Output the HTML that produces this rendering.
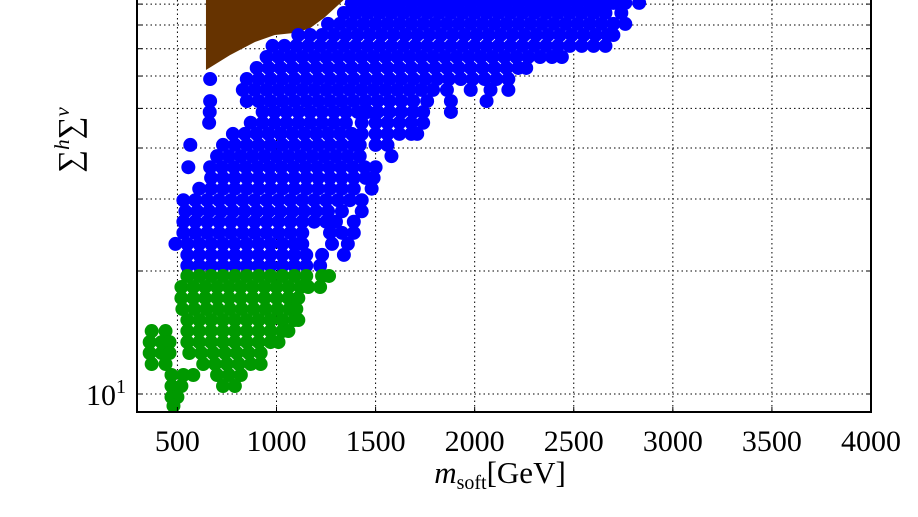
<!DOCTYPE html>
<html><head><meta charset="utf-8"><style>
html,body{margin:0;padding:0;background:#fff;}
svg{display:block;font-family:"Liberation Serif","DejaVu Serif",serif;}
</style></head><body>
<svg id="chart" width="918" height="517" viewBox="0 0 918 517" xmlns="http://www.w3.org/2000/svg">
<g id="grid"></g>
<g id="marks"></g>
<g id="axes"></g>
<text x="500" y="483" font-size="31" text-anchor="middle"><tspan font-style="italic">m</tspan><tspan font-size="20" dy="6">soft</tspan><tspan dy="-6">[GeV]</tspan></text>
<text transform="translate(80,140) rotate(-90)" font-size="32" text-anchor="middle">∑<tspan font-style="italic" font-size="21" dy="-11">h</tspan><tspan dy="11">∑</tspan><tspan font-style="italic" font-size="21" dy="-11">v</tspan></text>
</svg>
<script>
const xTicks = [500,1000,1500,2000,2500,3000,3500,4000];
const yGrid = [10,20,30,40,50,60,70,80,90];
const brownM = [644,644,765,891,991,1092,1168,1243,1369];
const brownS = [95,62.1,67.5,72.7,75.6,76.5,78.5,83.5,95];
const blueRows = [
[20.6,[550,610,670,730,790,850,910,970,1030,1090,1150,1220]],
[21.9,[550,610,670,730,790,850,910,970,1030,1090,1150,1230,1340]],
[23.3,[490,550,610,670,730,790,850,910,970,1030,1090,1130,1280,1360]],
[24.8,[530,590,650,710,770,830,890,950,1010,1070,1130,1270,1330,1390]],
[26.4,[530,590,650,710,770,830,890,950,1010,1070,1130,1190,1250,1300,1390]],
[28.0,[540,600,660,720,780,840,900,960,1020,1080,1140,1200,1260,1330,1430]],
[29.8,[530,590,650,710,770,830,890,950,1010,1070,1130,1190,1250,1310,1370,1430]],
[31.8,[610,670,730,790,850,910,970,1030,1090,1150,1210,1270,1330,1390,1480]],
[33.8,[670,730,790,850,910,970,1030,1090,1150,1210,1270,1330,1390,1450,1490]],
[35.9,[555,665,725,785,845,905,965,1025,1085,1145,1205,1265,1325,1385,1445,1500]],
[38.2,[700,760,820,880,940,1000,1060,1120,1180,1240,1300,1360,1420,1580]],
[40.7,[565,730,790,850,910,970,1030,1090,1150,1210,1270,1330,1390,1420,1500,1560]],
[43.3,[780,840,900,960,1020,1080,1140,1200,1260,1320,1380,1430,1500,1560,1620,1680,1710]],
[46.1,[660,870,930,990,1050,1110,1170,1230,1290,1350,1430,1500,1560,1620,1680,1740]],
[49.0,[663,930,990,1050,1110,1170,1230,1290,1350,1410,1460,1510,1570,1630,1690,1740,1880]],
[52.1,[665,850,910,970,1030,1090,1150,1210,1270,1330,1390,1450,1510,1570,1630,1690,1760,1880,2060]],
[55.5,[830,890,950,1010,1070,1130,1190,1250,1310,1370,1430,1490,1550,1610,1670,1730,1790,1860,1980,2080,2170]],
[59.0,[665,850,910,970,1030,1090,1150,1210,1270,1330,1390,1450,1510,1570,1630,1690,1750,1810,1870,1930,1990,2050,2110,2170]],
[62.8,[900,960,1020,1080,1140,1200,1260,1320,1380,1440,1500,1560,1620,1680,1740,1800,1860,1920,1980,2040,2100,2160,2220,2260]],
[66.8,[950,1010,1070,1130,1190,1250,1310,1370,1430,1490,1550,1610,1670,1730,1790,1850,1910,1970,2030,2090,2150,2210,2270,2330,2390,2440]],
[71.1,[980,1040,1100,1160,1220,1280,1340,1400,1460,1520,1580,1640,1700,1760,1820,1880,1940,2000,2060,2120,2180,2240,2300,2360,2420,2480,2540,2600,2660]],
[75.6,[1110,1170,1230,1290,1350,1410,1470,1530,1590,1650,1710,1770,1830,1890,1950,2010,2070,2130,2190,2250,2310,2370,2430,2490,2550,2610,2670,2700]],
[80.5,[1260,1320,1380,1440,1500,1560,1620,1680,1740,1800,1860,1920,1980,2040,2100,2160,2220,2280,2340,2400,2460,2520,2580,2640,2700,2760]],
[85.6,[1340,1400,1460,1520,1580,1640,1700,1760,1820,1880,1940,2000,2060,2120,2180,2240,2300,2360,2420,2480,2540,2600,2660,2740]],
[90.6,[1380,1440,1500,1560,1620,1680,1740,1800,1860,1920,1980,2040,2100,2160,2220,2280,2340,2400,2460,2520,2580,2640,2700,2760,2830]]
];
const greenRows = [
[19.45,[550,610,670,730,790,850,910,970,1030,1090,1150,1230,1265]],
[18.27,[520,580,640,700,760,820,880,940,1000,1060,1120,1160,1220]],
[17.17,[520,580,640,700,760,820,880,940,1000,1060,1110]],
[16.14,[525,585,645,705,765,825,885,945,1005,1065,1100]],
[15.17,[550,610,670,730,790,850,910,970,1030,1090,1110]],
[14.26,[370,440,550,610,670,730,790,850,910,970,1030,1060]],
[13.4,[360,420,460,550,610,670,730,790,850,910,970,1010]],
[12.6,[360,420,460,560,620,680,740,800,860,920]],
[11.84,[370,440,630,690,750,810,870,920]],
[11.13,[470,530,580,700,760,820]],
[10.46,[470,520,730,790]],
[9.83,[470,500]],
[9.35,[480]]
];
const X0=137.8, X1=871, XMIN=300, XMAX=4000;
const PYDEC=408.6, PY10=394;
function xs(v){return X0+(v-XMIN)/(XMAX-XMIN)*(X1-X0);}
function ys(v){return PY10-(Math.log10(v)-1)*PYDEC;}
const NS="http://www.w3.org/2000/svg";
function mk(tag,attrs,parent){const e=document.createElementNS(NS,tag);for(const k in attrs)e.setAttribute(k,attrs[k]);parent.appendChild(e);return e;}
const grid=document.getElementById('grid'), marks=document.getElementById('marks'), axes=document.getElementById('axes');
const L=137, R=871, T=0, B=412;
xTicks.forEach(t=>{const x=xs(t);
 const g=mk('line',{x1:x,x2:x,y1:T,y2:B,stroke:'#000','stroke-width':1,'stroke-dasharray':'1.5,3'},grid);
 
 
 const tk=mk('line',{x1:x,x2:x,y1:B,y2:B-5,stroke:'#000','stroke-width':1},axes);
 
 
 const lb=mk('text',{x:x,y:451,'font-size':30,'text-anchor':'middle'},axes);
 lb.textContent=t;
 
 
});
yGrid.forEach(t=>{const y=ys(t);
 const g=mk('line',{x1:L,x2:R,y1:y,y2:y,stroke:'#000','stroke-width':1,'stroke-dasharray':'1.5,3'},grid);
 
 
 const tk=mk('line',{x1:L,x2:L+5,y1:y,y2:y,stroke:'#000','stroke-width':1},axes);
 
 
 const tk2=mk('line',{x1:R,x2:R-5,y1:y,y2:y,stroke:'#000','stroke-width':1},axes);
 
 
});
const yl=mk('text',{x:126,y:ys(10)+11,'font-size':30,'text-anchor':'end'},axes);
yl.innerHTML='10<tspan font-size="20" dy="-12">1</tspan>';


const pts=brownM.map((m,i)=>xs(m)+','+ys(brownS[i])).join(' ');
const br=mk('polygon',{points:pts,fill:'#663300'},marks);


function drawRows(rows,color,name){rows.forEach(r=>{r[1].forEach(m=>{
 const c=mk('circle',{cx:xs(m),cy:ys(r[0]),r:7,fill:color},marks);
 
 
});});}
drawRows(blueRows,'#0000ff','blue-point');
drawRows(greenRows,'#009900','green-point');
const fr=mk('rect',{x:L,y:-2,width:R-L,height:B+2,fill:'none',stroke:'#000','stroke-width':2},axes);


</script>
</body></html>
